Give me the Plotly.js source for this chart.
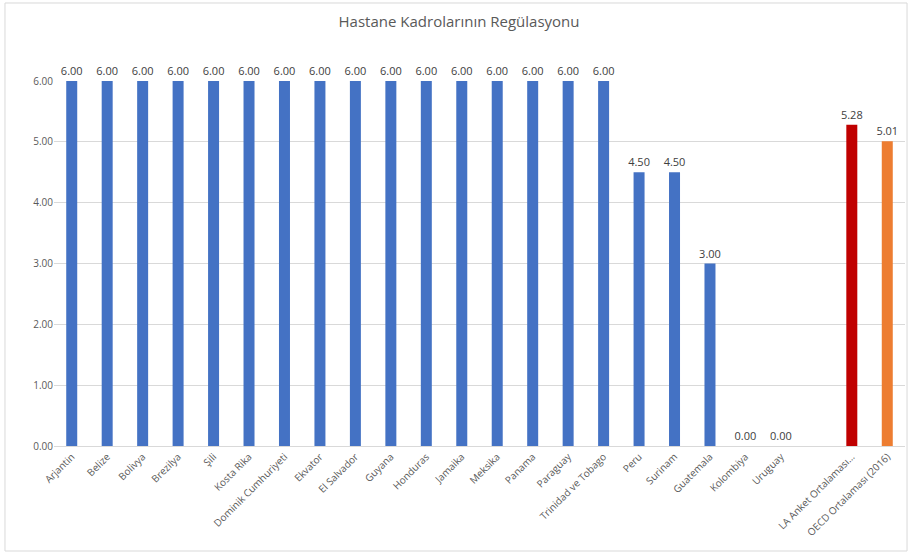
<!DOCTYPE html>
<html>
<head>
<meta charset="utf-8">
<script src="https://cdn.plot.ly/plotly-3.0.1.min.js"></script>
<style>html,body{margin:0;padding:0;background:#fff;}#chart{width:909px;height:555px;}</style>
</head>
<body>
<div id="chart"></div>
<script>
const categories = ["Arjantin","Belize","Bolivya","Brezilya","Şili","Kosta Rika","Dominik Cumhuriyeti","Ekvator","El Salvador","Guyana","Honduras","Jamaika","Meksika","Panama","Paraguay","Trinidad ve Tobago","Peru","Surinam","Guatemala","Kolombiya","Uruguay"," ","LA Anket Ortalaması…","OECD Ortalaması (2016)"];
const values = [6,6,6,6,6,6,6,6,6,6,6,6,6,6,6,6,4.5,4.5,3,0,0,null,5.28,5.01];
const yTicks = [0,1,2,3,4,5,6];

const colors = categories.map(c => c.startsWith("LA Anket") ? "#C00000" : (c.startsWith("OECD") ? "#ED7D31" : "#4472C4"));
const texts = values.map(v => v === null ? "" : v.toFixed(2));

const trace = {
  type: "bar",
  x: categories,
  y: values,
  marker: {color: colors},
  text: texts,
  textposition: "outside",
  constraintext: "none",
  cliponaxis: false,
  textfont: {family: "Open Sans, sans-serif", size: 11, color: "#404040"},
  hoverinfo: "x+y"
};

const layout = {
  width: 909, height: 555,
  margin: {l: 54, r: 4, t: 81, b: 109},
  paper_bgcolor: "#ffffff",
  plot_bgcolor: "#ffffff",
  title: {text: "Hastane Kadrolarının Regülasyonu", x: 0.505, xref: "container", xanchor: "center", y: 0.96, yanchor: "middle",
    font: {family: "Open Sans, sans-serif", size: 15, color: "#595959"}},
  bargap: 0.69,
  showlegend: false,
  xaxis: {
    type: "category",
    tickangle: -45,
    tickfont: {family: "Open Sans, sans-serif", size: 10, color: "#595959"},
    showline: true, linecolor: "#D9D9D9", linewidth: 1,
    ticks: "", showgrid: false
  },
  yaxis: {
    range: [0, 6],
    tickvals: yTicks,
    tickformat: ".2f",
    tickfont: {family: "Open Sans, sans-serif", size: 10, color: "#595959"},
    gridcolor: "#D9D9D9", gridwidth: 1,
    zeroline: false, showline: false, ticks: "", ticklen: 4
  },
  shapes: [{
    type: "rect", xref: "paper", yref: "paper",
    x0: -0.0576, x1: 1.0024, y0: -0.2877, y1: 1.2137,
    line: {color: "#D9D9D9", width: 1}, fillcolor: "rgba(0,0,0,0)"
  }]
};

Plotly.newPlot("chart", [trace], layout, {displayModeBar: false, staticPlot: true});
</script>
</body>
</html>
